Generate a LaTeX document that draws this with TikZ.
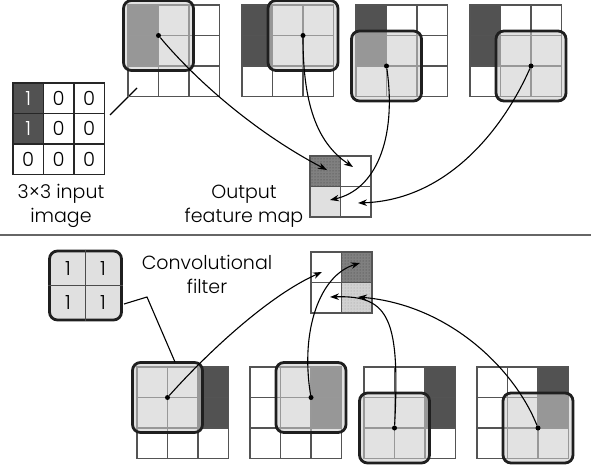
\documentclass[tikz,border=0pt]{standalone}
\usepackage{fontspec}
\setmainfont{Poppins Light}
\usetikzlibrary{arrows.meta,patterns}
\definecolor{darkcell}{gray}{0.32}
\definecolor{gridc}{gray}{0.33}
\tikzset{
  gridline/.style={draw=gridc,line width=1.1pt},
  filterbox/.style={draw=black!88,line width=2.8pt,rounded corners=8pt,fill=black!20,fill opacity=0.57,minimum size=70pt,inner sep=0pt},
  dotn/.style={circle,fill=black,inner sep=0pt,minimum size=5pt},
  arr/.style={line width=1.1pt,-{Stealth[length=9pt,width=6.5pt]}},
  lbl/.style={font=\fontsize{19}{24}\selectfont,align=center,inner sep=0pt},
  digit/.style={font=\fontsize{19.5}{19.5}\selectfont,inner sep=0pt},
}
\newcommand\dcell[2]{\fill[darkcell] ({#1*30.5},{#2*30.5}) rectangle ++(30.5,30.5);}
\newcommand\cellgrid{\foreach \i in {0,1,2}{\foreach \j in {0,1,2}{\draw[gridline] ({\i*30.5},{\j*30.5}) rectangle ++(30.5,30.5);}}}
\begin{document}
\begin{tikzpicture}[x=1pt,y=-1pt]
\useasboundingbox (0,0) rectangle (591,465);
% ---------- top half ----------
% input image
\begin{scope}[shift={(13,83)}]
  \dcell{0}{0}\dcell{0}{1}
  \foreach \i in {0,1,2}{\foreach \j in {0,1,2}{\draw[draw=black!85,line width=1.2pt] ({\i*30.5},{\j*30.5}) rectangle ++(30.5,30.5);}}
  \node[digit,text=white] (i00) at (15.25,15.25) {1};
  \node[digit] (i10) at (45.75,15.25) {0};
  \node[digit] (i20) at (76.25,15.25) {0};
  \node[digit,text=white] (i01) at (15.25,45.75) {1};
  \node[digit] (i11) at (45.75,45.75) {0};
  \node[digit] (i21) at (76.25,45.75) {0};
  \node[digit] (i02) at (15.25,76.25) {0};
  \node[digit] (i12) at (45.75,76.25) {0};
  \node[digit] (i22) at (76.25,76.25) {0};
\end{scope}
\node[lbl] (inlbl) at (61,206) {3×3 input\\image};
\coordinate (inA) at (110,115);
\coordinate (inB) at (137,88);
\draw[line width=1.1pt] (inA) -- (inB);
% top grids
\begin{scope}[shift={(128,5)}]
  \dcell{0}{0}\dcell{0}{1}\cellgrid
  \node[filterbox] (fa) at (30.5,30.5) {};
  \node[dotn] (da) at (30.5,30.5) {};
\end{scope}
\begin{scope}[shift={(242,5)}]
  \dcell{0}{0}\dcell{0}{1}\cellgrid
  \node[filterbox] (fb) at (61,30.5) {};
  \node[dotn] (db) at (61,30.5) {};
\end{scope}
\begin{scope}[shift={(356,5)}]
  \dcell{0}{0}\dcell{0}{1}\cellgrid
  \node[filterbox] (fc) at (30.5,61) {};
  \node[dotn] (dc) at (30.5,61) {};
\end{scope}
\begin{scope}[shift={(470,5)}]
  \dcell{0}{0}\dcell{0}{1}\cellgrid
  \node[filterbox] (fd) at (61,61) {};
  \node[dotn] (dd) at (61,61) {};
\end{scope}
% top output feature map
\begin{scope}[shift={(310,156)}]
  \fill[black!50] (0,0) rectangle (30.5,30.5);
  \fill[pattern=dots,pattern color=black!75] (0,0) rectangle (30.5,30.5);
  \fill[black!12] (0,30.5) rectangle (30.5,61);
  \foreach \i in {0,1}{\foreach \j in {0,1}{\draw[gridline] ({\i*30.5},{\j*30.5}) rectangle ++(30.5,30.5);}}
\end{scope}
\node[lbl] (outlbl) at (244,206) {Output\\feature map};
\coordinate (ta) at (327,170);
\coordinate (tb) at (353,167);
\coordinate (tc) at (330,200);
\coordinate (td) at (358,203);
\draw[arr] (da) .. controls (200,85) and (260,135) .. (ta);
\draw[arr] (db) .. controls (303,110) and (320,145) .. (tb);
\draw[arr] (dc) .. controls (397,140) and (375,190) .. (tc);
\draw[arr] (dd) .. controls (505,125) and (450,200) .. (td);
% divider
\coordinate (dl) at (0,235);
\coordinate (dr) at (591,235);
\draw[draw=black!60,line width=1.4pt] (dl) -- (dr);
% ---------- bottom half ----------
\node[draw=black!88,line width=2.8pt,rounded corners=8pt,fill=black!12,minimum width=72pt,minimum height=69pt,inner sep=0pt] (leg) at (85.5,285.5) {};
\draw[draw=black!70,line width=1.1pt] (leg.north) -- (leg.south);
\draw[draw=black!70,line width=1.1pt] (leg.west) -- (leg.east);
\node[digit] (l1) at (68,268.5) {1};
\node[digit] (l2) at (103,268.5) {1};
\node[digit] (l3) at (68,302.5) {1};
\node[digit] (l4) at (103,302.5) {1};
\node[lbl] (convlbl) at (207,274) {Convolutional\\filter};
\begin{scope}[shift={(137,367)}]
  \dcell{2}{0}\dcell{2}{1}\cellgrid
  \node[filterbox] (ga) at (30.5,30.5) {};
  \node[dotn] (ea) at (30.5,30.5) {};
\end{scope}
\begin{scope}[shift={(250,367)}]
  \dcell{2}{0}\dcell{2}{1}\cellgrid
  \node[filterbox] (gb) at (61,30.5) {};
  \node[dotn] (eb) at (61,30.5) {};
\end{scope}
\begin{scope}[shift={(364,367)}]
  \dcell{2}{0}\dcell{2}{1}\cellgrid
  \node[filterbox] (gc) at (30.5,61) {};
  \node[dotn] (ec) at (30.5,61) {};
\end{scope}
\begin{scope}[shift={(477,367)}]
  \dcell{2}{0}\dcell{2}{1}\cellgrid
  \node[filterbox] (gd) at (61,61) {};
  \node[dotn] (ed) at (61,61) {};
\end{scope}
\coordinate (legout) at (124,304);
\coordinate (legbend) at (147,297);
\coordinate (legin) at (175,362);
\draw[line width=1.1pt] (legout) -- (legbend) -- (legin);
% bottom output feature map
\begin{scope}[shift={(311,252)}]
  \fill[black!50] (30.5,0) rectangle (61,30.5);
  \fill[pattern=dots,pattern color=black!75] (30.5,0) rectangle (61,30.5);
  \fill[black!18] (30.5,30.5) rectangle (61,61);
  \fill[pattern=dots,pattern color=black!40] (30.5,30.5) rectangle (61,61);
  \foreach \i in {0,1}{\foreach \j in {0,1}{\draw[gridline] ({\i*30.5},{\j*30.5}) rectangle ++(30.5,30.5);}}
\end{scope}
\coordinate (ua) at (322,272);
\coordinate (ub) at (360,263);
\coordinate (uc) at (330,297);
\coordinate (ud) at (358,297);
\draw[arr] (ea) .. controls (210,350) and (270,295) .. (ua);
\draw[arr] (eb) .. controls (300,330) and (320,275) .. (ub);
\draw[arr] (ec) .. controls (400,320) and (390,295) .. (uc);
\draw[arr] (ed) .. controls (515,370) and (450,305) .. (ud);
\end{tikzpicture}
\end{document}
